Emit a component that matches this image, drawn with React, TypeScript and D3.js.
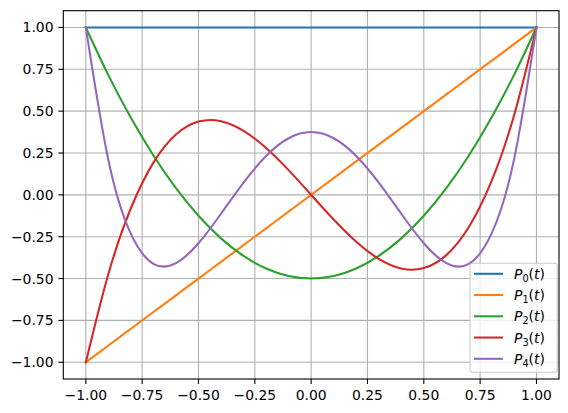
import React from "react";
import * as d3 from "d3";

const tValues = [-1, -0.9, -0.8, -0.7, -0.6, -0.5, -0.4, -0.3, -0.2, -0.1, 0, 0.1, 0.2, 0.3, 0.4, 0.5, 0.6, 0.7, 0.8, 0.9, 1];
const p0 = [1, 1, 1, 1, 1, 1, 1, 1, 1, 1, 1, 1, 1, 1, 1, 1, 1, 1, 1, 1, 1];
const p1 = [-1, -0.9, -0.8, -0.7, -0.6, -0.5, -0.4, -0.3, -0.2, -0.1, 0, 0.1, 0.2, 0.3, 0.4, 0.5, 0.6, 0.7, 0.8, 0.9, 1];
const p2 = [1, 0.715, 0.46, 0.235, 0.04, -0.125, -0.26, -0.365, -0.44, -0.485, -0.5, -0.485, -0.44, -0.365, -0.26, -0.125, 0.04, 0.235, 0.46, 0.715, 1];
const p3 = [-1, -0.4725, -0.08, 0.1925, 0.36, 0.4375, 0.44, 0.3825, 0.28, 0.1475, 0, -0.1475, -0.28, -0.3825, -0.44, -0.4375, -0.36, -0.1925, 0.08, 0.4725, 1];
const p4 = [1, 0.208, -0.233, -0.412, -0.408, -0.289, -0.113, 0.073, 0.232, 0.338, 0.375, 0.338, 0.232, 0.073, -0.113, -0.289, -0.408, -0.412, -0.233, 0.208, 1];

const seriesNames = ["0", "1", "2", "3", "4"];
const seriesValues = [p0, p1, p2, p3, p4];
const colors = ["#1f77b4", "#ff7f0e", "#2ca02c", "#d62728", "#9467bd"];

const xTicks = [-1, -0.75, -0.5, -0.25, 0, 0.25, 0.5, 0.75, 1];
const yTicks = [-1, -0.75, -0.5, -0.25, 0, 0.25, 0.5, 0.75, 1];
const tickLabels = ["−1.00", "−0.75", "−0.50", "−0.25", "0.00", "0.25", "0.50", "0.75", "1.00"];

const W = 568;
const H = 413;
const left = 63.3;
const right = 559;
const top = 10.7;
const bottom = 379;
const fontSize = 13.9;
const font = "DejaVu Sans, sans-serif";

export default function App() {
  const x = d3.scaleLinear().domain([-1.1, 1.1]).range([left, right]);
  const y = d3.scaleLinear().domain([-1.1, 1.1]).range([bottom, top]);
  const line = d3
    .line<[number, number]>()
    .x((d) => x(d[0]))
    .y((d) => y(d[1]))
    .curve(d3.curveNatural);

  const legX = 470;
  const legY = 263.3;
  const legW = 87.3;
  const legH = 109;
  const rowH = 21.25;

  return (
    <svg
      width={W}
      height={H}
      style={{ position: "absolute", left: 0, top: 0, background: "white" }}
      fontFamily={font}
    >
      <rect x={0} y={0} width={W} height={H} fill="white" />
      <defs>
        <clipPath id="plotclip">
          <rect x={left} y={top} width={right - left} height={bottom - top} />
        </clipPath>
      </defs>
      {/* grid */}
      {xTicks.map((t, i) => (
        <line key={"gx" + i} x1={x(t)} x2={x(t)} y1={top} y2={bottom} stroke="#b0b0b0" strokeWidth={1.1} />
      ))}
      {yTicks.map((t, i) => (
        <line key={"gy" + i} x1={left} x2={right} y1={y(t)} y2={y(t)} stroke="#b0b0b0" strokeWidth={1.1} />
      ))}
      {/* series */}
      <g clipPath="url(#plotclip)">
        {seriesValues.map((vals, si) => (
          <path
            key={"s" + si}
            d={line(tValues.map((t, i) => [t, vals[i]] as [number, number])) || ""}
            fill="none"
            stroke={colors[si]}
            strokeWidth={2.08}
            strokeLinejoin="round"
            strokeLinecap="square"
          />
        ))}
      </g>
      {/* spines */}
      <rect x={left} y={top} width={right - left} height={bottom - top} fill="none" stroke="black" strokeWidth={1.1} />
      {/* x ticks */}
      {xTicks.map((t, i) => (
        <g key={"xt" + i}>
          <line x1={x(t)} x2={x(t)} y1={bottom} y2={bottom + 4.9} stroke="black" strokeWidth={1.1} />
          <text x={x(t)} y={bottom + 20.5} fontSize={fontSize} textAnchor="middle" fill="black">
            {tickLabels[i]}
          </text>
        </g>
      ))}
      {/* y ticks */}
      {yTicks.map((t, i) => (
        <g key={"yt" + i}>
          <line x1={left - 4.9} x2={left} y1={y(t)} y2={y(t)} stroke="black" strokeWidth={1.1} />
          <text x={left - 9.8} y={y(t)} dy="0.36em" fontSize={fontSize} textAnchor="end" fill="black">
            {tickLabels[i]}
          </text>
        </g>
      ))}
      {/* legend */}
      <rect
        x={legX}
        y={legY}
        width={legW}
        height={legH}
        rx={2.8}
        fill="white"
        fillOpacity={0.8}
        stroke="#cccccc"
        strokeWidth={1.1}
      />
      {seriesNames.map((n, i) => {
        const cy = legY + 10.5 + i * rowH;
        return (
          <g key={"lg" + i}>
            <line x1={474} x2={503} y1={cy} y2={cy} stroke={colors[i]} strokeWidth={2.08} />
            <text x={514} y={cy} dy="0.36em" fontSize={fontSize} fill="black">
              <tspan fontStyle="italic">P</tspan>
              <tspan fontSize={fontSize * 0.7} dy={3}>{n}</tspan>
              <tspan dy={-3}>(</tspan>
              <tspan fontStyle="italic">t</tspan>
              <tspan>)</tspan>
            </text>
          </g>
        );
      })}
    </svg>
  );
}
